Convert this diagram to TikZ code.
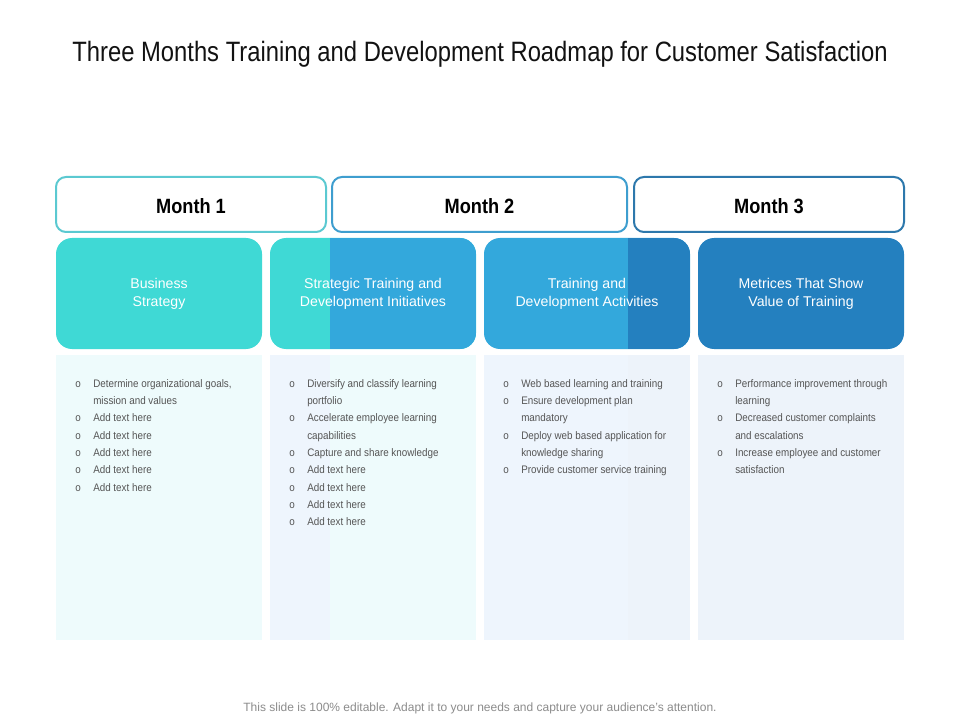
\documentclass[tikz,border=0pt]{standalone}
\usepackage{fontspec}
\setmainfont{Liberation Sans}
\newfontfamily\titlefont[FakeStretch=0.85]{Liberation Sans}
\newfontfamily\narrowfont[FakeStretch=0.88]{Liberation Sans}
\newfontfamily\listfont[FakeStretch=0.9]{Liberation Sans}
\usetikzlibrary{positioning,calc}

\definecolor{turq}{HTML}{3FD9D5}
\definecolor{midblue}{HTML}{33A8DC}
\definecolor{deepblue}{HTML}{2480BF}
\definecolor{borderA}{HTML}{5BC9D1}
\definecolor{borderB}{HTML}{3E9ECF}
\definecolor{borderC}{HTML}{2D78AC}
\definecolor{paleA}{HTML}{EEFBFC}
\definecolor{paleB}{HTML}{EEF5FD}
\definecolor{paleC}{HTML}{EDF3FA}
\definecolor{listgray}{HTML}{555555}
\definecolor{footgray}{HTML}{8C8C8C}

\newcommand{\pxu}{0.75pt}
\newcommand{\bitem}{\makebox[13.5pt][l]{o}}
\newcommand{\bcont}{\hspace*{13.5pt}}

\tikzset{
  monthbox/.style={draw=#1, line width=1.5pt, rounded corners=7.5pt, fill=white,
    minimum height=55*\pxu, inner sep=0, outer sep=0, text height=14pt, text depth=0pt,
    font=\narrowfont\bfseries\fontsize{15.5}{18}\selectfont},
  topicbox/.style={fill=#1, rounded corners=12pt, minimum width=206*\pxu,
    minimum height=111*\pxu, inner sep=0, outer sep=0, text=white, align=center,
    font=\fontsize{10.6}{13.7}\selectfont},
  listpanel/.style={fill=#1, minimum width=206*\pxu, minimum height=285*\pxu,
    inner sep=0, outer sep=0},
  splitfill/.style 2 args={path picture={
    \fill[#2,sharp corners] ([xshift=#1*\pxu]path picture bounding box.south west)
      rectangle (path picture bounding box.north east);}},
  listtext/.style={anchor=north west, align=left, inner sep=0, text=listgray,
    font=\listfont\fontsize{8.2}{13}\selectfont}
}

\begin{document}
\begin{tikzpicture}[x=0.75pt,y=-0.75pt]

\useasboundingbox[fill=white] (0,0) rectangle (960,720);

% titulo
\node[anchor=base, font=\titlefont\fontsize{21}{24}\selectfont, text=black!93] (title)
at (480,61.7) {Three Months Training and Development Roadmap for Customer Satisfaction};

% meses
\node[monthbox=borderA, minimum width=270*\pxu] (m1) at (191,204.5) {Month 1};
\node[monthbox=borderB, minimum width=295*\pxu, right=4.5pt of m1] (m2) {Month 2};
\node[monthbox=borderC, minimum width=270*\pxu, right=5.25pt of m2] (m3) {Month 3};

% caixas
\node[topicbox=turq] (bs) at (159,293.5) {Business\\Strategy};
\node[topicbox=turq, splitfill={60}{midblue}, right=6pt of bs] (st)
{Strategic Training and\\Development Initiatives};
\node[topicbox=midblue, splitfill={144}{deepblue}, right=6pt of st] (td)
{Training and\\Development Activities};
\node[topicbox=deepblue, right=6pt of td] (mv) {Metrices That Show\\Value of Training};

% paineis
\node[listpanel=paleA, below=4.5pt of bs] (p1) {};
\node[listpanel=paleB, splitfill={60}{paleA}, below=4.5pt of st] (p2) {};
\node[listpanel=paleB, splitfill={144}{paleC}, below=4.5pt of td] (p3) {};
\node[listpanel=paleC, below=4.5pt of mv] (p4) {};

% listas
\node[listtext] (l1) at ($(p1.north west)+(19,24)$) {%
\bitem Determine organizational goals,\\ \bcont mission and values\\
\bitem Add text here\\ \bitem Add text here\\ \bitem Add text here\\
\bitem Add text here\\ \bitem Add text here};
\node[listtext] (l2) at ($(p2.north west)+(19,24)$) {%
\bitem Diversify and classify learning\\ \bcont portfolio\\
\bitem Accelerate employee learning\\ \bcont capabilities\\
\bitem Capture and share knowledge\\ \bitem Add text here\\
\bitem Add text here\\ \bitem Add text here\\ \bitem Add text here};
\node[listtext] (l3) at ($(p3.north west)+(19,24)$) {%
\bitem Web based learning and training\\
\bitem Ensure development plan\\ \bcont mandatory\\
\bitem Deploy web based application for\\ \bcont knowledge sharing\\
\bitem Provide customer service training};
\node[listtext] (l4) at ($(p4.north west)+(19,24)$) {%
\bitem Performance improvement through\\ \bcont learning\\
\bitem Decreased customer complaints\\ \bcont and escalations\\
\bitem Increase employee and customer\\ \bcont satisfaction};

% rodape
\node[anchor=base, font=\fontsize{9}{10}\selectfont, text=footgray] (foot)
at (480,711) {This slide is 100\% editable. Adapt it to your needs and capture your audience's attention.};

\end{tikzpicture}
\end{document}
